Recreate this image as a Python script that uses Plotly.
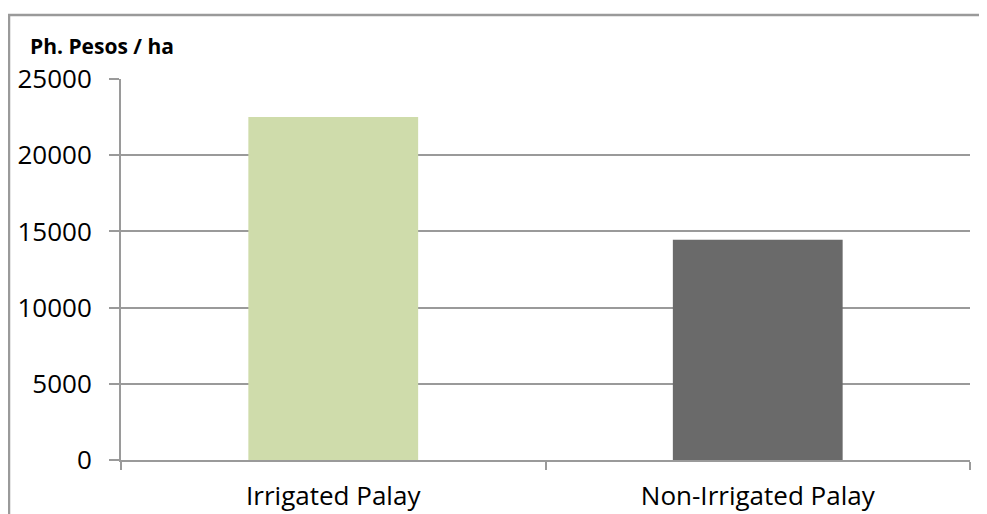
import plotly.graph_objects as go

categories = ["Irrigated Palay", "Non-Irrigated Palay"]
values = [22500, 14450]
bar_colors = ["#CFDCAB", "#6A6A6A"]
y_ticks = [0, 5000, 10000, 15000, 20000, 25000]

# page body has an 8px margin; work in screen pixels and convert
OFF = 8
W, H = 987 - 2 * OFF, 514 - OFF
PL, PR, PT, PB = 121, 970, 79, 460  # plot area in screen px
L, R = PL - OFF, W - (PR - OFF)
T, B = PT - OFF, H - (PB - OFF)
pw, ph = PR - PL, PB - PT

def sx(px):
    return (px - PL) / pw

def sy(py):
    return (PB - py) / ph

fig = go.Figure(go.Bar(x=categories, y=values,
                       marker=dict(color=bar_colors, line=dict(width=0)), width=0.4))

grid_color = "#9A9A9A"
fig.update_layout(
    width=W, height=H,
    margin=dict(l=L, r=R, t=T, b=B, pad=0, autoexpand=False),
    paper_bgcolor="white", plot_bgcolor="white",
    showlegend=False,
    font=dict(family="Open Sans", color="black"),
    xaxis=dict(
        showline=True, linecolor=grid_color, linewidth=2,
        ticks="outside", tickson="boundaries", ticklen=8, tickcolor=grid_color, tickwidth=2,
        tickfont=dict(size=26, family="Open Sans", color="black"),
        showgrid=False, automargin=False,
        ticklabelstandoff=12,
    ),
    yaxis=dict(
        range=[0, 25000], tickvals=y_ticks, ticktext=[str(v) for v in y_ticks],
        showline=True, linecolor=grid_color, linewidth=2,
        ticks="outside", ticklen=10, tickcolor=grid_color, tickwidth=2,
        showgrid=True, gridcolor=grid_color, gridwidth=2,
        tickfont=dict(size=26, family="Open Sans", color="black"),
        zeroline=False, automargin=False,
        ticklabelstandoff=12,
    ),
    annotations=[dict(
        text="<b>Ph. Pesos / ha</b>", xref="paper", yref="paper",
        x=sx(28), y=sy(46), xanchor="left", yanchor="middle",
        showarrow=False, font=dict(size=21, family="Open Sans", color="black"),
    )],
    shapes=[dict(
        type="rect", xref="paper", yref="paper",
        x0=sx(9), x1=sx(1000),
        y0=sy(540), y1=sy(15),
        line=dict(color=grid_color, width=2.5), fillcolor="rgba(0,0,0,0)",
        layer="below",
    )],
)

fig.write_html("out.html")
